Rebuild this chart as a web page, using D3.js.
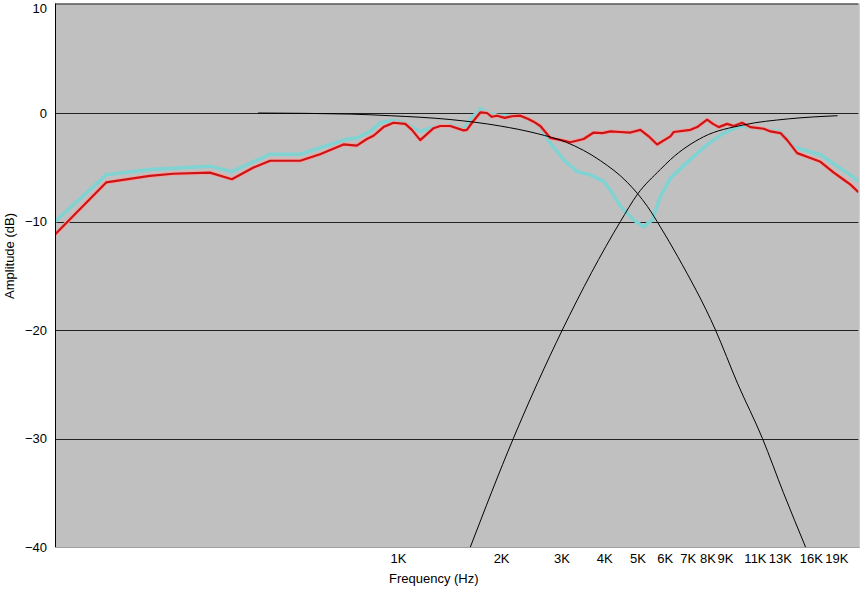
<!DOCTYPE html>
<html>
<head>
<meta charset="utf-8">
<script src="https://cdn.jsdelivr.net/npm/d3@7/dist/d3.min.js"></script>
<style>
  body { margin: 0; background: #ffffff; }
  svg { display: block; }
  .tick text { font-family: "Liberation Sans", Arial, sans-serif; font-size: 13px; fill: #000; }
  .axis_title { font-family: "Liberation Sans", Arial, sans-serif; font-size: 13px; fill: #000; }
</style>
</head>
<body>
<svg id="chart" width="867" height="590"></svg>
<script>

// measured response (red), frequency in Hz / level in dB
const red_freq = [100, 141, 189, 221, 283, 328, 378, 424, 519, 593, 694, 759, 812, 849, 908, 971,
	1051, 1099, 1162, 1271, 1329, 1421, 1554, 1590, 1645, 1739, 1819, 1880, 1946, 2050, 2150, 2276,
	2400, 2488, 2603, 2784, 3000, 3184, 3482, 3724, 3950, 4166, 4450, 4765, 5097, 5389, 5702, 6235,
	6375, 7133, 7461, 7980, 8300, 8626, 9127, 9541, 10094, 10674, 11672, 12212, 13056, 13658, 14606,
	15970, 17080, 18680, 19970, 20900, 22050]
const red_db = [-11.2, -6.4, -5.8, -5.6, -5.5, -6.1, -5.05, -4.4, -4.4, -3.8, -2.9, -3.0, -2.4, -2.1, -1.3, -0.9,
	-1.0, -1.55, -2.5, -1.4, -1.2, -1.2, -1.6, -1.55, -0.9, 0.05, 0.0, -0.35, -0.25, -0.45, -0.3, -0.25,
	-0.55, -0.8, -1.2, -2.3, -2.5, -2.7, -2.4, -1.8, -1.85, -1.7, -1.75, -1.8, -1.55, -2.15, -2.9, -2.15,
	-1.75, -1.55, -1.3, -0.6, -1.0, -1.3, -1.0, -1.2, -0.9, -1.3, -1.45, -1.7, -1.85, -2.5, -3.7,
	-4.15, -4.5, -5.5, -6.15, -6.6, -7.3]

// second measurement (cyan)
const cyan_freq = [100, 141, 189, 283, 328, 424, 519, 710, 759, 830, 888, 971, 1051, 1099, 1162, 1271,
	1421, 1554, 1626, 1739, 1819, 1946, 2276, 2488, 2603, 2784, 3044, 3331, 3642, 3983, 4166, 4457,
	4872, 5211, 5514, 5831, 6235, 6375, 7293, 7980, 8921, 9980, 13056, 14276, 15270, 17080, 19540,
	20900, 22050]
const cyan_db = [-10.0, -5.7, -5.2, -4.9, -5.4, -3.8, -3.8, -2.4, -2.3, -1.7, -0.9, -0.7, -0.9, -1.3, -1.7, -1.3,
	-1.1, -1.5, -0.6, 0.4, 0.0, -0.2, -0.3, -0.8, -1.3, -2.8, -4.3, -5.4, -5.7, -6.3, -7.1, -8.6,
	-9.85, -10.5, -9.85, -7.7, -6.0, -5.7, -4.0, -2.9, -1.85, -1.2, -1.7, -3.1, -3.4, -3.85, -5.1,
	-5.7, -6.3]

// crossover filter responses (black)
const lowpass_freq = [391, 726, 950, 1420, 1990, 2550, 3100, 3900, 4670, 5340, 5830, 6540, 8440, 9780, 11570, 13320, 15450]
const lowpass_db = [0, -0.1, -0.25, -0.6, -1.2, -1.9, -2.7, -4.4, -6.4, -8.6, -10.5, -13.2, -20, -24.9, -30, -35, -40]

const highpass_freq = [1627, 2171, 3017, 4457, 4995, 5831, 6235, 7784, 10183, 13690, 19150]
const highpass_db = [-40, -30, -20, -10, -7.5, -5.2, -4.3, -2.2, -1.1, -0.55, -0.25]

const x_ticks = [1000, 2000, 3000, 4000, 5000, 6000, 7000, 8000, 9000, 11000, 13000, 16000, 19000]
const x_tick_labels = ["1K", "2K", "3K", "4K", "5K", "6K", "7K", "8K", "9K", "11K", "13K", "16K", "19K"]
const y_ticks = [10, 0, -10, -20, -30, -40]
const grid_values = [0, -10, -20, -30]

const svg = d3.select("#chart")
const plot_left = 55, plot_right = 858.5, plot_top = 4.5, plot_bottom = 547

const x = d3.scaleLog().domain([100, 22050]).range([plot_left, plot_right])
const y = d3.scaleLinear().domain([-40, 10]).range([plot_bottom, plot_top])

function pairs(fs, vs){
	return fs.map((f, i) => [f, vs[i]])
}

// plot background
svg.append("rect")
	.attr("x", plot_left).attr("y", plot_top)
	.attr("width", plot_right - plot_left).attr("height", plot_bottom - plot_top)
	.attr("fill", "#c0c0c0")

svg.append("clipPath").attr("id", "plot_clip")
	.append("rect")
	.attr("x", plot_left).attr("y", plot_top)
	.attr("width", plot_right - plot_left).attr("height", plot_bottom - plot_top)

// grid
svg.append("g").selectAll("line.grid")
	.data(grid_values).enter().append("line")
	.classed("grid", true)
	.attr("x1", plot_left).attr("x2", plot_right)
	.attr("y1", (d) => Math.round(y(d)) + 0.5)
	.attr("y2", (d) => Math.round(y(d)) + 0.5)
	.attr("stroke", "#222")
	.attr("stroke-width", 1)

const plot = svg.append("g").attr("clip-path", "url(#plot_clip)")

const jagged = d3.line().x((d) => x(d[0])).y((d) => y(d[1]))
const smooth = d3.line().x((d) => x(d[0])).y((d) => y(d[1])).curve(d3.curveMonotoneX)

plot.append("path")
	.datum(pairs(cyan_freq, cyan_db))
	.attr("d", jagged)
	.attr("fill", "none")
	.attr("stroke", "#7fd3d3")
	.attr("stroke-width", 3.5)
	.attr("stroke-linejoin", "round")

plot.append("path")
	.datum(pairs(red_freq, red_db))
	.attr("d", jagged)
	.attr("fill", "none")
	.attr("stroke", "#f2a0a0")
	.attr("stroke-width", 4)
	.attr("stroke-linejoin", "round")

plot.append("path")
	.datum(pairs(red_freq, red_db))
	.attr("d", jagged)
	.attr("fill", "none")
	.attr("stroke", "#cc1414")
	.attr("stroke-width", 2.2)
	.attr("stroke-linejoin", "round")

plot.append("path")
	.datum(pairs(lowpass_freq, lowpass_db))
	.attr("d", smooth)
	.attr("fill", "none")
	.attr("stroke", "#000")
	.attr("stroke-width", 1)

plot.append("path")
	.datum(pairs(highpass_freq, highpass_db))
	.attr("d", smooth)
	.attr("fill", "none")
	.attr("stroke", "#000")
	.attr("stroke-width", 1)

// frame: dark top/left, light bottom/right
svg.append("line").attr("x1", plot_left + 0.5).attr("x2", plot_left + 0.5).attr("y1", plot_top - 1).attr("y2", plot_bottom)
	.attr("stroke", "#000")
svg.append("line").attr("x1", plot_left).attr("x2", plot_right).attr("y1", plot_top - 0.5).attr("y2", plot_top - 0.5)
	.attr("stroke", "#000")
svg.append("line").attr("x1", plot_right + 0.5).attr("x2", plot_right + 0.5).attr("y1", plot_top - 1).attr("y2", plot_bottom + 1)
	.attr("stroke", "#a0a0a0")
svg.append("line").attr("x1", plot_left).attr("x2", plot_right + 1).attr("y1", plot_bottom + 0.5).attr("y2", plot_bottom + 0.5)
	.attr("stroke", "#a0a0a0")

// axes
const x_axis = d3.axisBottom(x)
	.tickValues(x_ticks)
	.tickFormat((d, i) => x_tick_labels[i])
	.tickSize(0)
	.tickPadding(7)

svg.append("g")
	.attr("transform", "translate(0," + plot_bottom + ")")
	.call(x_axis)
	.call((g) => g.select(".domain").remove())

const y_axis = d3.axisLeft(y)
	.tickValues(y_ticks)
	.tickSize(0)
	.tickPadding(8)

svg.append("g")
	.attr("transform", "translate(" + plot_left + ",0)")
	.call(y_axis)
	.call((g) => g.select(".domain").remove())
	// keep the top label inside the page
	.call((g) => g.selectAll(".tick text").filter((d) => d === 10).attr("dy", "0.6em"))

svg.append("text")
	.classed("axis_title", true)
	.attr("x", 389)
	.attr("y", 583)
	.text("Frequency (Hz)")

svg.append("text")
	.classed("axis_title", true)
	.attr("transform", "translate(14,256) rotate(-90)")
	.attr("text-anchor", "middle")
	.text("Amplitude (dB)")

</script>
</body>
</html>
